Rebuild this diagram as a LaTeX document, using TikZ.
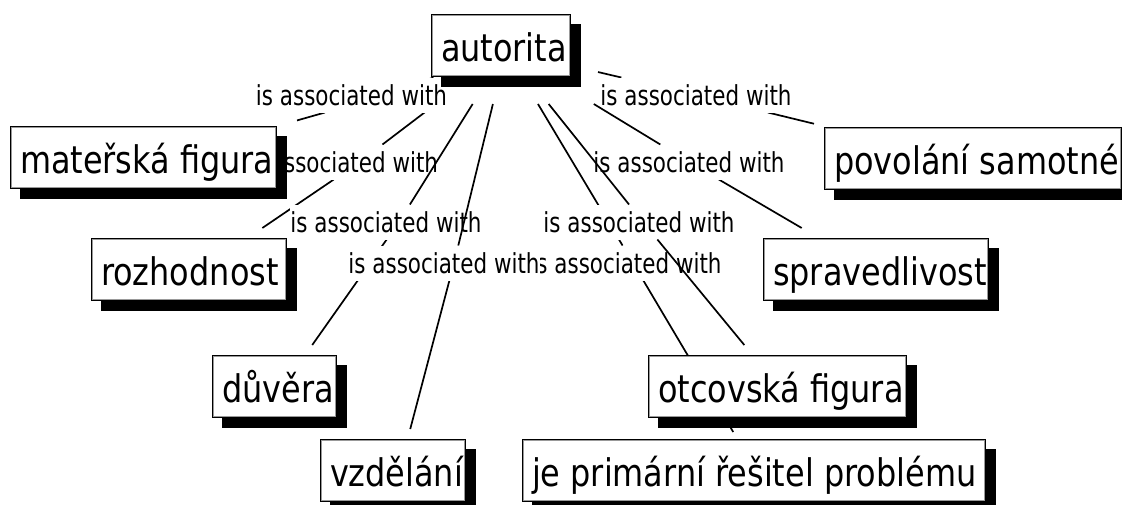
\documentclass[tikz,border=0pt]{standalone}
\usepackage{fontspec}
\setmainfont{DejaVu Sans}
\newfontfamily\conceptfont[FakeStretch=0.84]{DejaVu Sans}
\newfontfamily\phrasefont[FakeStretch=0.78]{DejaVu Sans}

\pgfdeclarelayer{paper}
\pgfdeclarelayer{linksbelow}
\pgfdeclarelayer{phrases}
\pgfdeclarelayer{linksabove}
\pgfsetlayers{paper,linksbelow,phrases,linksabove,main}

% concept text: left aligned in a box of fixed width, may run past it
\newcommand\conceptlabel[2]{\makebox[#1pt][l]{#2}}
% linking phrase: white patch behind the words only; the extra space
% on the right moves the point where the links meet
\newcommand\phrasebox[2]{{\setlength{\fboxsep}{0pt}\colorbox{white}{\rule[-7.5pt]{0pt}{35pt}#2}}\hspace*{#1pt}}

\begin{document}
\begin{tikzpicture}[x=1pt,y=-1pt,
  concept/.style={rectangle, inner xsep=10pt, inner ysep=0pt,
    minimum height=73pt, outer sep=10pt,
    font=\conceptfont\fontsize{38pt}{40pt}\selectfont,
    text height=28pt, text depth=6pt,
    path picture={
      \fill[black] ([xshift=10pt]path picture bounding box.south west)
        rectangle ([yshift=-10pt]path picture bounding box.north east);
      \fill[white] ([yshift=10pt]path picture bounding box.south west)
        rectangle ([xshift=-10pt]path picture bounding box.north east);
      \draw[black, line width=1pt]
        ([shift={(0.5pt,10.5pt)}]path picture bounding box.south west)
        rectangle ([shift={(-10.5pt,-0.5pt)}]path picture bounding box.north east);
      \draw[black!40, line width=1pt]
        ([shift={(1.5pt,11.5pt)}]path picture bounding box.south west)
        rectangle ([shift={(-11.5pt,-1.5pt)}]path picture bounding box.north east);
    }},
  phrase/.style={inner sep=0pt, outer sep=0pt,
    font=\phrasefont\fontsize{27.5pt}{30pt}\selectfont},
  link/.style={line width=1.7pt, black}]

\useasboundingbox (0,0) rectangle (1122,504);
\begin{pgfonlayer}{paper}
  \fill[white] (0,0) rectangle (1122,504);
\end{pgfonlayer}

% concepts
\node[concept, outer sep=17pt] (autorita) at (506,50.5) {\conceptlabel{130}{autorita}};
\node[concept] (mat) at (148.5,162.5) {\conceptlabel{257}{mateřská figura}};
\node[concept] (pov) at (978,163.5) {\conceptlabel{288}{povolání samotné}};
\node[concept] (roz) at (194,274.5) {\conceptlabel{186}{rozhodnost}};
\node[concept] (spr) at (881,274.5) {\conceptlabel{216}{spravedlivost}};
\node[concept] (duv) at (279.5,391.5) {\conceptlabel{115}{důvěra}};
\node[concept] (vzd) at (398,475.5) {\conceptlabel{136}{vzdělání}};
\node[concept] (otc) at (782.5,391.5) {\conceptlabel{249}{otcovská figura}};
\node[concept, outer sep=7pt] (jep) at (759,475.5) {\conceptlabel{454}{je primární řešitel problému}};

% linking phrases
\begin{pgfonlayer}{phrases}
  \node[phrase] (p1) at (386.5,95) {\phrasebox{70}{is associated with}};
  \node[phrase] (p2) at (696,95) {\phrasebox{0}{is associated with}};
  \node[phrase] (p3) at (359.5,162) {\phrasebox{34}{is associated with}};
  \node[phrase] (p4) at (689,162) {\phrasebox{0}{is associated with}};
  \node[phrase] (p5) at (399,222) {\phrasebox{26}{is associated with}};
  \node[phrase] (p6) at (643,222) {\phrasebox{8}{is associated with}};
  \node[phrase] (p8) at (633,263) {\phrasebox{14}{is associated with}};
  \node[phrase] (p7) at (454,263) {\phrasebox{20}{is associated with}};
\end{pgfonlayer}

% links passing under other phrases
\begin{pgfonlayer}{linksbelow}
  \draw[link] (autorita) -- (p1);
  \draw[link] (p1) -- (mat);
  \draw[link] (autorita) -- (p2);
  \draw[link] (p2) -- (pov);
  \draw[link] (autorita) -- (p3);
  \draw[link] (p3) -- (roz);
  \draw[link] (p4) -- (spr);
  \draw[link] (p5) -- (duv);
  \draw[link] (p7) -- (vzd);
  \draw[link] (autorita) -- (p8);
  \draw[link] (p8) -- (jep);
\end{pgfonlayer}

% links crossing over phrases
\begin{pgfonlayer}{linksabove}
  \draw[link] (autorita) -- (p4);
  \draw[link] (autorita) -- (p5);
  \draw[link] (autorita) -- (p6);
  \draw[link] (p6) -- (otc);
  \draw[link] (autorita) -- (p7);
\end{pgfonlayer}
\end{tikzpicture}
\end{document}
